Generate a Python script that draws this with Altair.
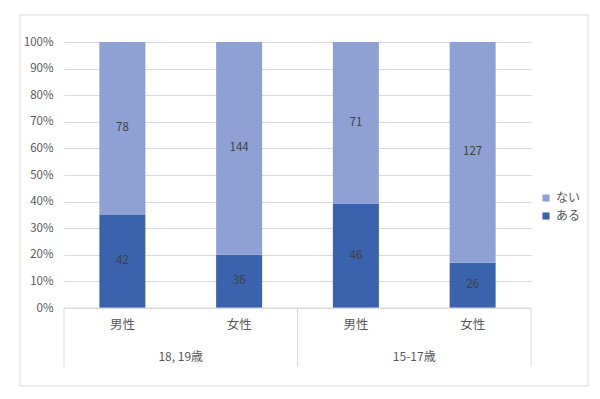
import altair as alt
import pandas as pd

# ---- data ----
groups = ["18, 19歳", "18, 19歳", "15-17歳", "15-17歳"]
sexes = ["男性", "女性", "男性", "女性"]
aru = [42, 36, 46, 26]      # ある
nai = [78, 144, 71, 127]    # ない
series = ["ない", "ある"]
colors = ["#8EA0D4", "#3A62AD"]

rows = []
for i, (g, s, a, n) in enumerate(zip(groups, sexes, aru, nai)):
    rows.append({"idx": i + 0.5, "key": i, "group": g, "sex": s, "series": "ある", "ord": 0, "count": a})
    rows.append({"idx": i + 0.5, "key": i, "group": g, "sex": s, "series": "ない", "ord": 1, "count": n})
df = pd.DataFrame(rows)

cats = pd.DataFrame({"idx": [i + 0.5 for i in range(len(sexes))], "sex": sexes, "group": groups})
grp = cats.groupby("group", sort=False)["idx"].agg(["min", "max", "mean"]).reset_index()
group_labels = pd.DataFrame({"group": grp["group"], "mid": grp["mean"]})
seps = sorted(set(list(grp["min"] - 0.5) + list(grp["max"] + 0.5)))
sep_df = pd.DataFrame({"pos": seps})

FONT = "Noto Sans CJK JP"
W, H = 467, 266
xscale = alt.Scale(domain=[0, len(sexes)], nice=False, zero=False, padding=0)
yscale = alt.Scale(domain=[0, 1], nice=False)
yaxis = alt.Axis(format=".0%", values=[round(i / 10, 1) for i in range(11)], tickCount=11,
                 grid=True, gridColor="#D9D9D9", domain=False, ticks=False,
                 labelOverlap=False,
                 labelPadding=11, labelFont=FONT, labelFontSize=11.5,
                 labelColor="#595959", title=None)

base = alt.Chart(df).transform_stack(
    stack="count", groupby=["key"], as_=["y0", "y1"],
    sort=[alt.SortField("ord", order="ascending")], offset="normalize"
)

bars = base.mark_bar(width=46).encode(
    x=alt.X("idx:Q", scale=xscale, axis=None),
    y=alt.Y("y0:Q", scale=yscale, axis=yaxis),
    y2="y1:Q",
    color=alt.Color("series:N", scale=alt.Scale(domain=series, range=colors),
                    legend=alt.Legend(title=None, orient="none", legendX=476, legendY=150,
                                      symbolType="square", symbolSize=50, symbolStrokeWidth=0,
                                      labelFont=FONT, labelFontSize=12, labelColor="#595959",
                                      rowPadding=6)),
)

labels = base.transform_calculate(mid="(datum.y0 + datum.y1) / 2").mark_text(
    font=FONT, fontSize=11.5, color="#404040"
).encode(
    x=alt.X("idx:Q", scale=xscale, axis=None),
    y=alt.Y("mid:Q", scale=yscale, axis=yaxis),
    text="count:Q",
)

baseline = alt.Chart(pd.DataFrame({"v": [0]})).mark_rule(color="#D9D9D9").encode(
    y=alt.Y("v:Q", scale=yscale, axis=yaxis), x=alt.value(0), x2=alt.value(W)
)

sex_text = alt.Chart(cats).mark_text(font=FONT, fontSize=12.5, color="#595959").encode(
    x=alt.X("idx:Q", scale=xscale, axis=None), y=alt.value(283), text="sex:N"
)

group_text = alt.Chart(group_labels).mark_text(font=FONT, fontSize=12, color="#595959").encode(
    x=alt.X("mid:Q", scale=xscale, axis=None), y=alt.value(315), text="group:N"
)

sep_rules = alt.Chart(sep_df).mark_rule(color="#D9D9D9").encode(
    x=alt.X("pos:Q", scale=xscale, axis=None), y=alt.value(H), y2=alt.value(325)
)

border = alt.Chart(pd.DataFrame({"a": [0]})).mark_rect(
    fill=None, stroke="#D9D9D9", strokeWidth=1
).encode(x=alt.value(-44), x2=alt.value(524), y=alt.value(-27), y2=alt.value(344))

chart = alt.layer(border, bars, baseline, labels, sex_text, group_text, sep_rules).properties(
    width=W, height=H,
    autosize=alt.AutoSizeParams(type="none"),
    padding={"left": 56, "top": 34, "right": 61, "bottom": 83},
    background="#FFFFFF",
).configure_view(stroke=None)

chart.save("out.html", embed_options={"renderer": "svg", "actions": False})
